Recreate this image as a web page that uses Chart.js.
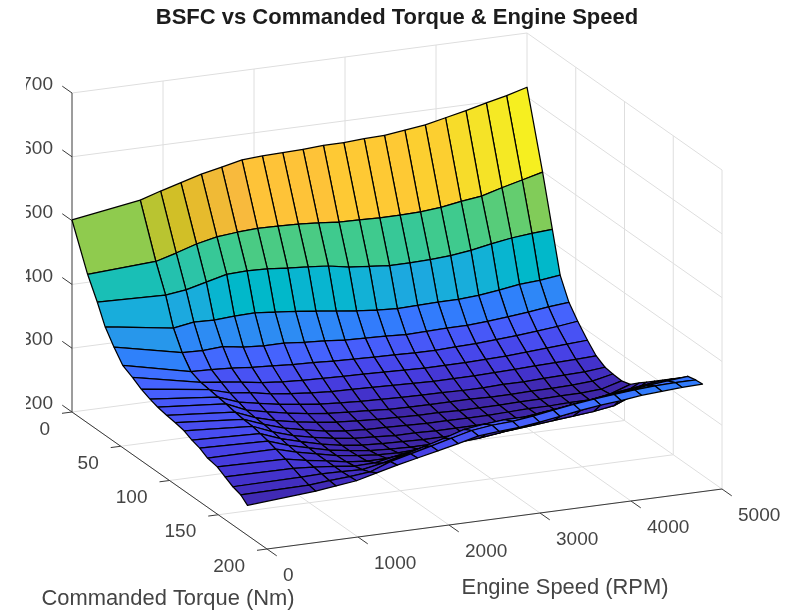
<!DOCTYPE html>
<html>
<head>
<meta charset="utf-8">
<title>BSFC surface</title>
<script src="https://cdn.jsdelivr.net/npm/chart.js@4/dist/chart.umd.min.js"></script>
<style>
html, body { margin: 0; padding: 0; background: #fff; }
#wrap { width: 786px; height: 616px; }
#plot { filter: blur(0.5px); }
</style>
</head>
<body>
<div id="wrap"><canvas id="plot" width="786" height="616"></canvas></div>
<script>
// engine map
var speed = [0, 750, 974, 1197, 1421, 1645, 1868, 2092, 2316, 2539, 2763, 2987, 3211, 3434, 3658, 3882, 4105, 4329, 4553, 4776, 5000];
var torque = [0, 16, 26, 34, 43, 52, 62, 71, 80, 88, 97, 106, 115, 123, 131, 139, 149, 157, 165, 173, 180];
var bsfc = [
    [501, 518, 528, 537, 546, 553, 560, 562, 563, 564, 566, 566, 568, 569, 573, 577, 584, 591, 599, 606, 615],
    [433, 439, 448, 458, 465, 468, 470, 469, 468, 466, 463, 462, 461, 461, 462, 465, 470, 474, 483, 491, 499],
    [400, 397, 401, 409, 417, 418, 417, 414, 412, 409, 403, 400, 397, 397, 398, 400, 404, 410, 415, 418, 420],
    [370, 354, 359, 358, 360, 361, 358, 355, 351, 347, 343, 340, 338, 339, 340, 340, 342, 346, 351, 353, 357],
    [348, 325, 324, 326, 321, 319, 319, 316, 314, 311, 310, 309, 307, 308, 309, 309, 311, 314, 317, 321, 324],
    [329, 305, 304, 302, 299, 297, 295, 294, 292, 291, 290, 289, 288, 288, 289, 290, 292, 294, 297, 300, 304],
    [321, 299, 295, 291, 286, 283, 281, 280, 279, 278, 277, 276, 275, 275, 275, 276, 277, 279, 281, 283, 285],
    [312, 297, 288, 284, 278, 274, 271, 269, 268, 267, 266, 265, 264, 264, 264, 265, 266, 267, 268, 269, 270],
    [306, 295, 283, 277, 271, 267, 263, 261, 259, 258, 257, 256, 256, 255, 255, 256, 256, 257, 258, 259, 262],
    [302, 293, 279, 272, 266, 261, 257, 255, 253, 251, 250, 250, 250, 250, 249, 249, 250, 250, 251, 253, 260],
    [299, 290, 277, 268, 262, 257, 253, 251, 249, 248, 247, 247, 246, 246, 246, 247, 247, 248, 248, 250, 259],
    [297, 288, 276, 266, 259, 253, 249, 247, 246, 245, 244, 244, 244, 244, 245, 246, 246, 247, 247, 252, 263],
    [294, 287, 274, 264, 257, 251, 247, 245, 243, 243, 242, 242, 242, 243, 244, 246, 247, 248, 250, 258, 275],
    [288, 284, 272, 263, 255, 249, 245, 243, 242, 241, 241, 241, 242, 244, 246, 248, 250, 252, 256, 268, 285],
    [284, 281, 270, 262, 254, 249, 245, 243, 242, 242, 243, 243, 245, 248, 251, 254, 257, 260, 265, 278, 295],
    [277, 277, 268, 261, 254, 250, 247, 246, 247, 248, 250, 252, 256, 261, 266, 270, 275, 280, 286, 292, 305],
    [274, 272, 266, 261, 255, 252, 252, 255, 258, 262, 268, 272, 277, 283, 289, 294, 299, 304, 310, 316, 318],
    [267, 266, 264, 261, 257, 258, 264, 270, 277, 285, 291, 295, 296, 301, 305, 310, 314, 319, 323, 327, 328],
    [260, 261, 262, 261, 260, 266, 274, 283, 292, 302, 306, 309, 309, 313, 317, 321, 325, 329, 333, 336, 339],
    [256, 257, 260, 262, 265, 277, 285, 293, 301, 309, 313, 315, 319, 324, 329, 333, 336, 339, 341, 342, 342],
    [247, 255, 259, 263, 271, 279, 286, 293, 300, 308, 311, 313, 317, 322, 327, 331, 334, 338, 340, 342, 343]
];
var speedTicks = [0, 1000, 2000, 3000, 4000, 5000];
var torqueTicks = [0, 50, 100, 150, 200];
var bsfcTicks = [200, 300, 400, 500, 600, 700];

var titleText = 'BSFC vs Commanded Torque & Engine Speed';
var speedLabel = 'Engine Speed (RPM)';
var torqueLabel = 'Commanded Torque (Nm)';

// parula, 64 steps
var parula = [
    [.2422,.1504,.6603],[.2504,.1650,.7076],[.2578,.1818,.7511],[.2647,.1978,.7952],[.2706,.2147,.8364],[.2751,.2342,.8710],[.2783,.2559,.8991],[.2803,.2782,.9221],
    [.2813,.3006,.9414],[.2810,.3228,.9579],[.2795,.3447,.9717],[.2760,.3667,.9829],[.2699,.3892,.9906],[.2602,.4123,.9952],[.2440,.4358,.9988],[.2206,.4603,.9973],
    [.1963,.4847,.9892],[.1834,.5074,.9798],[.1786,.5289,.9682],[.1764,.5499,.9520],[.1687,.5703,.9359],[.1540,.5902,.9218],[.1460,.6091,.9079],[.1380,.6276,.8973],
    [.1248,.6459,.8883],[.1113,.6635,.8763],[.0952,.6798,.8598],[.0689,.6948,.8394],[.0297,.7082,.8163],[.0036,.7203,.7917],[.0067,.7312,.7660],[.0433,.7411,.7394],
    [.0964,.7500,.7120],[.1408,.7584,.6842],[.1717,.7670,.6554],[.1938,.7758,.6251],[.2161,.7843,.5923],[.2470,.7918,.5567],[.2906,.7973,.5188],[.3406,.8008,.4789],
    [.3909,.8029,.4354],[.4456,.8024,.3909],[.5044,.7993,.3480],[.5616,.7942,.3045],[.6174,.7876,.2612],[.6720,.7793,.2227],[.7242,.7698,.1910],[.7738,.7598,.1646],
    [.8203,.7498,.1535],[.8634,.7406,.1596],[.9035,.7330,.1774],[.9393,.7288,.2100],[.9728,.7298,.2394],[.9956,.7434,.2371],[.9970,.7659,.2199],[.9952,.7893,.2028],
    [.9892,.8136,.1885],[.9786,.8386,.1766],[.9676,.8639,.1643],[.9610,.8890,.1537],[.9597,.9135,.1423],[.9628,.9373,.1265],[.9691,.9606,.1064],[.9769,.9839,.0805]
];
var cMin = 246, cMax = 618;

// fixed view of the 3d box, flattened onto the two page scales
function project(t, s, z){
    return {
        x: 72 + 195 * t / 200 + 455 * s / 5000,
        y: 412 + 137 * t / 200 - 60 * s / 5000 - 0.638 * (z - 200)
    };
}

function faceColor(z){
    var i = Math.floor((z - cMin) / (cMax - cMin) * 64);
    i = Math.max(0, Math.min(63, i));
    var c = parula[i];
    return 'rgb(' + Math.round(c[0] * 255) + ',' + Math.round(c[1] * 255) + ',' + Math.round(c[2] * 255) + ')';
}

var grey = '#dedede';
var dark = '#3a3a3a';
var datasets = [];

function addLine(a, b, color, width){
    datasets.push({data: [a, b], borderColor: color, borderWidth: width || 1, fill: false});
}

// walls and floor
bsfcTicks.forEach(function(z){
    if(z > 200){
        addLine(project(0, 0, z), project(0, 5000, z), grey);
        addLine(project(0, 5000, z), project(200, 5000, z), grey);
    }
});
speedTicks.forEach(function(s){
    if(s > 0) addLine(project(0, s, 200), project(0, s, 700), grey);
    addLine(project(0, s, 200), project(200, s, 200), grey);
});
torqueTicks.forEach(function(t){
    if(t > 0) addLine(project(t, 5000, 200), project(t, 5000, 700), grey);
    addLine(project(t, 0, 200), project(t, 5000, 200), grey);
});

// axes and tick marks
addLine(project(0, 0, 200), project(0, 0, 700), dark);
addLine(project(0, 0, 200), project(200, 0, 200), dark);
addLine(project(200, 0, 200), project(200, 5000, 200), dark);
bsfcTicks.forEach(function(z){
    addLine(project(0, 0, z), project(-10, 0, z), dark);
});
torqueTicks.forEach(function(t){
    addLine(project(t, 0, 200), project(t, -110, 200), dark);
});
speedTicks.forEach(function(s){
    addLine(project(200, s, 200), project(210, s, 200), dark);
});

// surface, far faces first
for(var r = 0; r < torque.length - 1; r++){
    for(var j = speed.length - 2; j >= 0; j--){
        var a = project(torque[r], speed[j], bsfc[r][j]);
        var b = project(torque[r], speed[j + 1], bsfc[r][j + 1]);
        var c = project(torque[r + 1], speed[j + 1], bsfc[r + 1][j + 1]);
        var d = project(torque[r + 1], speed[j], bsfc[r + 1][j]);
        datasets.push({
            data: [a, b, c, d, a],
            backgroundColor: faceColor(bsfc[r][j]),
            borderColor: '#000000',
            borderWidth: 1.25,
            fill: 'shape'
        });
    }
}
// Chart.js paints the last dataset first
datasets.reverse();

var tickLabels = {
    id: 'tickLabels',
    afterDatasetsDraw: function(chart){
        var ctx = chart.ctx;
        var xs = chart.scales.x, ys = chart.scales.y;
        function at(p, dx, dy, text, align){
            ctx.textAlign = align;
            ctx.fillText(text, xs.getPixelForValue(p.x) + dx, ys.getPixelForValue(p.y) + dy);
        }
        ctx.save();
        ctx.fillStyle = '#444444';
        ctx.textBaseline = 'middle';
        ctx.font = '19px "Liberation Sans"';
        torqueTicks.forEach(function(t){ at(project(t, 0, 200), -22, 17.5, String(t), 'right'); });
        speedTicks.forEach(function(s){ at(project(200, s, 200), 16, 27, String(s), 'left'); });
        ctx.font = '21.9px "Liberation Sans"';
        at(project(200, 0, 200), -99, 50, torqueLabel, 'center');
        at(project(200, 5000, 200), -157, 99, speedLabel, 'center');
        // the left end of the z labels is cut off in the picture
        ctx.beginPath();
        ctx.rect(26, 0, 760, 616);
        ctx.clip();
        ctx.font = '19px "Liberation Sans"';
        bsfcTicks.forEach(function(z){ at(project(0, 0, z), -19, -8, String(z), 'right'); });
        ctx.restore();
    }
};

var titleBox = 32.4;

new Chart(document.getElementById('plot'), {
    type: 'scatter',
    data: {datasets: datasets},
    plugins: [tickLabels],
    options: {
        responsive: false,
        animation: false,
        layout: {padding: {left: 8}},
        elements: {point: {radius: 0}, line: {tension: 0, borderJoinStyle: 'round'}},
        datasets: {scatter: {showLine: true, clip: false}},
        scales: {
            x: {type: 'linear', display: false, min: 8, max: 786},
            y: {type: 'linear', display: false, min: titleBox, max: 616, reverse: true}
        },
        plugins: {
            legend: {display: false},
            tooltip: {enabled: false},
            title: {
                display: true,
                text: titleText,
                color: '#1c1c1c',
                font: {family: '"Liberation Sans"', size: 22, weight: 'bold', lineHeight: 1.2},
                padding: {top: 5, bottom: 1}
            }
        }
    }
});
</script>
</body>
</html>
